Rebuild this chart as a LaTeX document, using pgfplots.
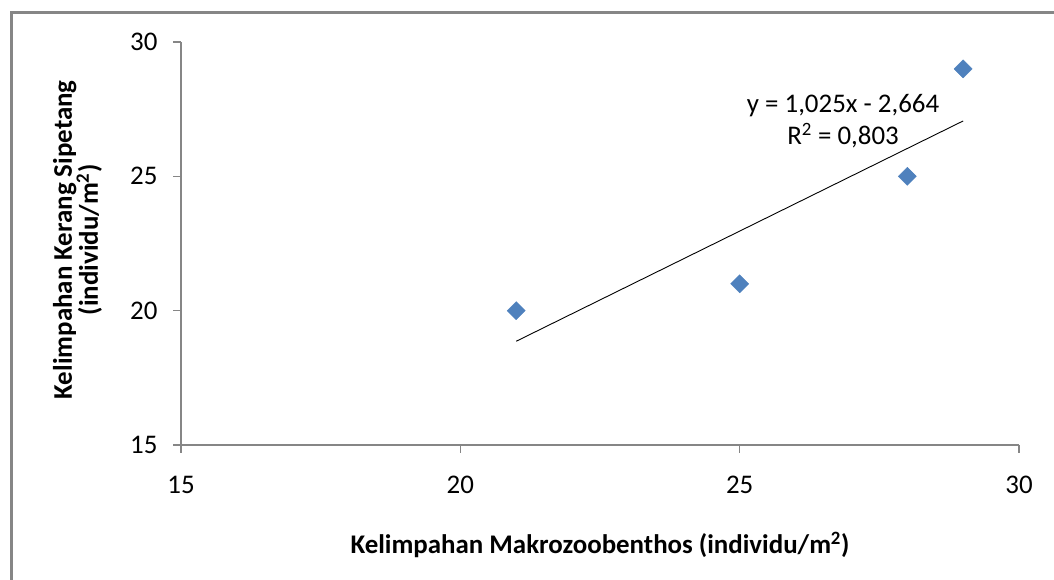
\documentclass[border=0pt]{standalone}
\usepackage{pgfplots}
\pgfplotsset{compat=1.18}
\usepackage{fontspec}
\setmainfont{Carlito}
\definecolor{ptblue}{HTML}{4F81BD}
\definecolor{axgray}{HTML}{868686}
\begin{document}
\begin{tikzpicture}[x=1bp,y=1bp]
\useasboundingbox (0,0) rectangle (1054,580);
\draw[axgray, line width=3bp] (11.5,-10) -- (11.5,567.5) -- (1070,567.5);
\begin{axis}[
  at={(181bp,135bp)}, anchor=origin,
  scale only axis, width=838bp, height=403bp,
  xmin=15, xmax=30, ymin=15, ymax=30,
  xtick={15,20,25,30}, ytick={15,20,25,30},
  axis x line=bottom, axis y line=left,
  axis line style={axgray, line width=1.2bp, -},
  tick style={axgray, line width=1.2bp},
  tick align=outside, major tick length=8bp,
  /pgf/number format/assume math mode=true,
  tick label style={font=\fontsize{27}{30}\selectfont},
  xticklabel style={yshift=-20bp},
  yticklabel style={xshift=-12bp},
  xlabel={\textbf{Kelimpahan Makrozoobenthos (individu/m\textsuperscript{2})}},
  ylabel={\textbf{Kelimpahan Kerang Sipetang}\\\textbf{(individu/m\textsuperscript{2})}},
  xlabel style={font=\fontsize{27}{30}\selectfont, at={(axis description cs:0.5,-0.248)}, anchor=center},
  ylabel style={font=\fontsize{27}{26}\selectfont, align=center, at={(axis description cs:-0.1235,0.509)}, anchor=center},
  clip=false,
]
\addplot[only marks, mark=square*, mark size=6.4bp, mark options={fill=ptblue, draw=ptblue, rotate=45}]
  coordinates {(21,20) (25,21) (28,25) (29,29)};
\addplot[black, line width=0.9bp] coordinates {(21,18.861) (29,27.061)};
\node[align=center, font=\fontsize{27}{32}\selectfont] at (axis cs:26.85,27.06)
  {y = 1,025x - 2,664\\R\textsuperscript{2} = 0,803};
\end{axis}
\end{tikzpicture}
\end{document}
